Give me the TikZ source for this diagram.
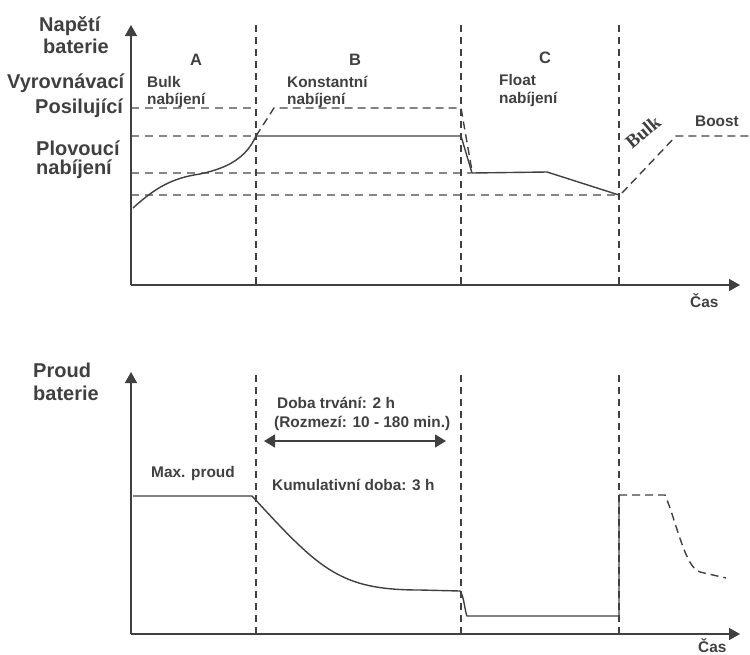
\documentclass[tikz,border=0pt]{standalone}
\usepackage{fontspec}
\setmainfont{Liberation Sans}
\newfontfamily\bulkfont{Liberation Serif}
\usepackage{xcolor}
\definecolor{Ink}{RGB}{64,64,64}
\definecolor{Grid}{RGB}{135,135,135}
\usetikzlibrary{arrows.meta}
\tikzstyle{Axis}=[draw=Ink,line width=1.5pt,-{Triangle[length=11pt,width=12pt]}]
\tikzstyle{Curve}=[draw=Ink,line width=1.4pt]
\tikzstyle{CurveDash}=[draw=Ink,line width=1.4pt,dash pattern=on 8pt off 5pt]
\tikzstyle{Guide}=[draw=Grid,line width=1.3pt,dash pattern=on 8pt off 6pt]
\tikzstyle{Phase}=[draw=Ink,line width=1.3pt,dash pattern=on 7pt off 5pt]
\tikzstyle{Span}=[draw=Ink,line width=1.4pt,
{Triangle[length=11pt,width=13pt]}-{Triangle[length=11pt,width=13pt]}]
\tikzstyle{LabelBig}=[font=\fontsize{20}{24}\selectfont\bfseries,
text=Ink,inner sep=0pt]
\tikzstyle{LabelSmall}=[font=\fontsize{15.4}{18}\selectfont\bfseries,
text=Ink,inner sep=0pt]
\tikzstyle{Letter}=[font=\fontsize{16.5}{20}\selectfont\bfseries,
text=Ink,inner sep=0pt,anchor=base]
\begin{document}
\begin{tikzpicture}[x=1pt,y=-1pt]
    \useasboundingbox (0,0) rectangle (750,654);
    % voltage chart
    \coordinate(uO)at(131,285);
    \coordinate(uY)at(131,25);
    \coordinate(uX)at(740,285);
    \coordinate(u1t)at(256,25);
    \coordinate(u1b)at(256,285);
    \coordinate(u2t)at(461,25);
    \coordinate(u2b)at(461,285);
    \coordinate(u3t)at(619,25);
    \coordinate(u3b)at(619,285);
    \coordinate(g1a)at(131,108);
    \coordinate(g1b)at(256,108);
    \coordinate(g2a)at(131,136);
    \coordinate(g2b)at(256,136);
    \coordinate(g3a)at(131,173);
    \coordinate(g3b)at(471,173);
    \coordinate(g4a)at(131,195);
    \coordinate(g4b)at(619,195);
    \coordinate(a0)at(133,208);
    \coordinate(a1)at(200,174);
    \coordinate(b0)at(256,136);
    \coordinate(b1)at(461,136);
    \coordinate(c0)at(472,173);
    \coordinate(c1)at(547,172);
    \coordinate(c2)at(619,195);
    \coordinate(e0)at(274,108);
    \coordinate(e1)at(461,108);
    \coordinate(e2)at(472,171);
    \coordinate(f0)at(622,193);
    \coordinate(f1)at(676,136);
    \coordinate(f2)at(750,136);
    % current chart
    \coordinate(iO)at(131,634);
    \coordinate(iY)at(131,372);
    \coordinate(iX)at(740,634);
    \coordinate(i1t)at(256,375);
    \coordinate(i1b)at(256,634);
    \coordinate(i2t)at(461,375);
    \coordinate(i2b)at(461,634);
    \coordinate(i3t)at(619,375);
    \coordinate(i3b)at(619,634);
    \coordinate(p0)at(133,496);
    \coordinate(p1)at(252,496);
    \coordinate(p2)at(420,590);
    \coordinate(p3)at(460,591);
    \coordinate(p4)at(467,616);
    \coordinate(p5)at(619,616);
    \coordinate(p6)at(619,495);
    \coordinate(q0)at(665,495);
    \coordinate(q1)at(726,578);
    \coordinate(s0)at(264,441);
    \coordinate(s1)at(446,441);
    % texts
    \node[LabelBig,anchor=base west](napeti)at(39,31){Napětí};
    \node[LabelBig,anchor=base west](bat1)at(43,53){baterie};
    \node[LabelBig,anchor=base west](vyrov)at(7,88){Vyrovnávací};
    \node[LabelBig,anchor=base west](posil)at(35,113){Posilující};
    \node[LabelBig,anchor=base west](plov)at(36,155){Plovoucí};
    \node[LabelBig,anchor=base west](plov2)at(36,174){nabíjení};
    \node[Letter](A)at(196,65){A};
    \node[Letter](B)at(355,65){B};
    \node[Letter](C)at(545,63){C};
    \node[LabelSmall,anchor=base west](bulk1)at(147,87){Bulk};
    \node[LabelSmall,anchor=base west](bulk2)at(147,104){nabíjení};
    \node[LabelSmall,anchor=base west](konst1)at(287,87){Konstantní};
    \node[LabelSmall,anchor=base west](konst2)at(287,104){nabíjení};
    \node[LabelSmall,anchor=base west](float1)at(499,85){Float};
    \node[LabelSmall,anchor=base west](float2)at(499,103){nabíjení};
    \node[font=\fontsize{19}{22}\selectfont\bulkfont\bfseries,text=Ink,
        inner sep=0pt,rotate=40](bulk)at(643,132){Bulk};
    \node[LabelSmall,anchor=base west](boost)at(695,126){Boost};
    \node[LabelSmall,anchor=base west](cas1)at(690,307){Čas};
    \node[LabelBig,anchor=base west](proud)at(33,377){Proud};
    \node[LabelBig,anchor=base west](bat2)at(33,400){baterie};
    \node[LabelSmall,anchor=base west](maxp)at(151,477){Max. proud};
    \node[LabelSmall,anchor=base west](doba)at(277,408){Doba trvání: 2 h};
    \node[LabelSmall,anchor=base west](rozm)at(274,427){(Rozmezí: 10 - 180 min.)};
    \node[LabelSmall,anchor=base west](kumul)at(272,490){Kumulativní doba: 3 h};
    \node[LabelSmall,anchor=base west](cas2)at(698,652){Čas};
    % guides and phases
    \draw[Guide](g1a)--(g1b);
    \draw[Guide](g2a)--(g2b);
    \draw[Guide](g3a)--(g3b);
    \draw[Guide](g4a)--(g4b);
    \draw[Phase](u1t)--(u1b);
    \draw[Phase](u2t)--(u2b);
    \draw[Phase](u3t)--(u3b);
    \draw[Phase](i1t)--(i1b);
    \draw[Phase](i2t)--(i2b);
    \draw[Phase](i3t)--(i3b);
    % curves
    \draw[Curve](a0)..controls(155,188)and(172,178)..(a1)
        ..controls(228,168)and(246,158)..(b0);
    \draw[Curve](b0)--(b1)--(c0)--(c1)--(c2);
    \draw[CurveDash](b0)--(e0)--(e1)--(e2);
    \draw[CurveDash](f0)--(f1)--(f2);
    \draw[Curve](p0)--(p1)..controls(320,570)and(340,590)..(p2)--(p3)
        ..controls(464,596)and(465,612)..(p4)--(p5)--(p6);
    \draw[CurveDash](p6)--(q0)..controls(676,520)and(685,568)..(700,572)
        --(q1);
    \draw[Span](s0)--(s1);
    % axes
    \draw[Axis](uO)--(uY);
    \draw[Axis](uO)--(uX);
    \draw[Axis](iO)--(iY);
    \draw[Axis](iO)--(iX);
\end{tikzpicture}
\end{document}
